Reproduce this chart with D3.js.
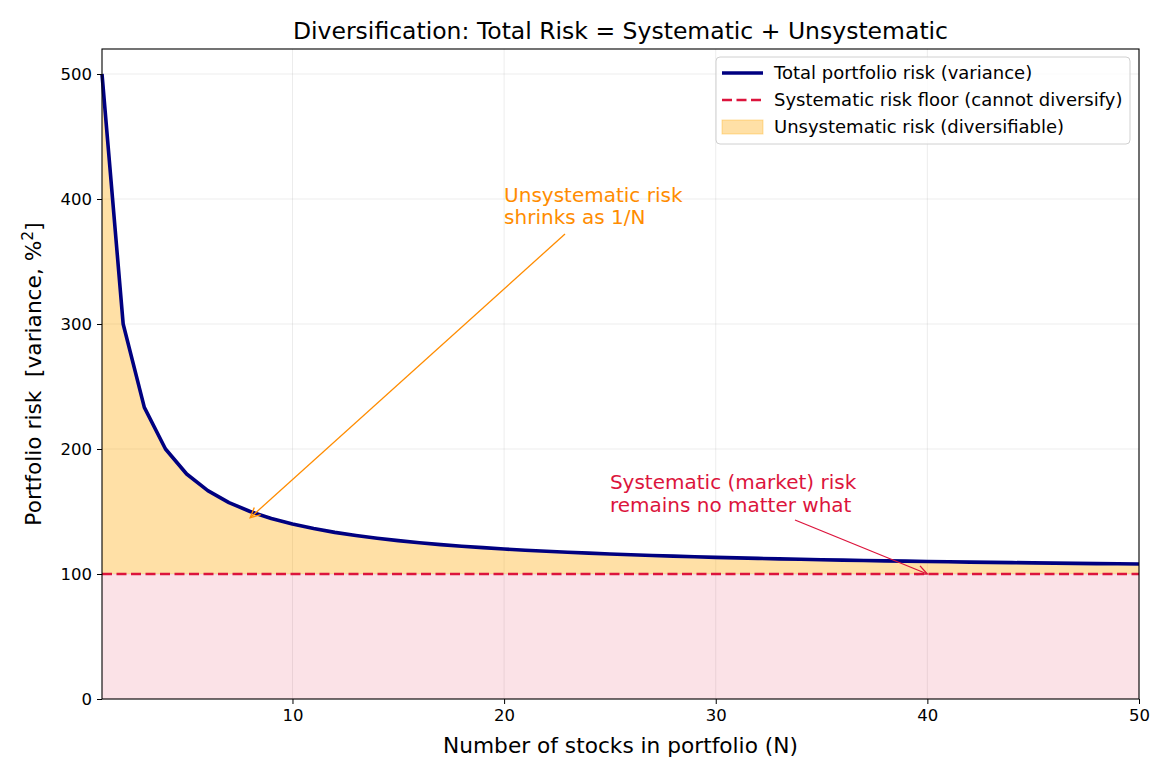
<!DOCTYPE html>
<html><head><meta charset="utf-8">
<script src="https://cdn.jsdelivr.net/npm/d3@7"></script>
<style>
body{margin:0;background:#fff;}
text{font-family:"DejaVu Sans",sans-serif;}
</style></head>
<body><svg id="c" width="1170" height="780"></svg>
<script>
const stocksN = d3.range(1, 51);
const totalRisk = [500, 300, 233.3, 200, 180, 166.7, 157.1, 150, 144.4, 140,
  136.4, 133.3, 130.8, 128.6, 126.7, 125, 123.5, 122.2, 121.1, 120,
  119, 118.2, 117.4, 116.7, 116, 115.4, 114.8, 114.3, 113.8, 113.3,
  112.9, 112.5, 112.1, 111.8, 111.4, 111.1, 110.8, 110.5, 110.3, 110,
  109.8, 109.5, 109.3, 109.1, 108.9, 108.7, 108.5, 108.3, 108.2, 108];
const systematicRisk = 100;
const xTicks = [10, 20, 30, 40, 50];
const yTicks = [0, 100, 200, 300, 400, 500];
const legendLabels = ["Total portfolio risk (variance)", "Systematic risk floor (cannot diversify)", "Unsystematic risk (diversifiable)"];
const annoUnsys = {text: ["Unsystematic risk", "shrinks as 1/N"], x: 20, y: 380, tx: 8, ty: 145};
const annoSys = {text: ["Systematic (market) risk", "remains no matter what"], x: 25, y: 150, tx: 40, ty: 100};

const data = stocksN.map((n, i) => ({n, v: totalRisk[i]}));
const svg = d3.select("#c");
const L = 102, R = 1139, T = 49, B = 699;
const x = d3.scaleLinear().domain([1, 50]).range([L, R]);
const y = d3.scaleLinear().domain([0, 520]).range([B, T]);

// grid
const g = svg.append("g");
g.selectAll(".gx").data(xTicks).join("line").attr("x1", d => x(d)).attr("x2", d => x(d))
  .attr("y1", T).attr("y2", B).attr("stroke", "#b0b0b0").attr("stroke-opacity", 0.3).attr("stroke-width", 0.8);
g.selectAll(".gy").data(yTicks).join("line").attr("y1", d => y(d)).attr("y2", d => y(d))
  .attr("x1", L).attr("x2", R).attr("stroke", "#b0b0b0").attr("stroke-opacity", 0.3).attr("stroke-width", 0.8);

// fills
svg.append("path").datum(data).attr("fill", "crimson").attr("fill-opacity", 0.12)
  .attr("d", d3.area().x(d => x(d.n)).y0(y(0)).y1(y(systematicRisk)));
svg.append("path").datum(data).attr("fill", "orange").attr("fill-opacity", 0.35)
  .attr("d", d3.area().x(d => x(d.n)).y0(y(systematicRisk)).y1(d => y(d.v)));

// floor line
svg.append("line").attr("x1", x(1)).attr("x2", x(50)).attr("y1", y(systematicRisk)).attr("y2", y(systematicRisk))
  .attr("stroke", "crimson").attr("stroke-width", 2.6).attr("stroke-dasharray", "10,4.5");
// total line
svg.append("path").datum(data).attr("fill", "none").attr("stroke", "navy").attr("stroke-width", 3.6)
  .attr("stroke-linejoin", "round")
  .attr("d", d3.line().x(d => x(d.n)).y(d => y(d.v)));

// axes frame
svg.append("rect").attr("x", L).attr("y", T).attr("width", R - L).attr("height", B - T)
  .attr("fill", "none").attr("stroke", "#000").attr("stroke-width", 1.1);

const xa = svg.append("g").attr("transform", `translate(0,${B})`)
  .call(d3.axisBottom(x).tickValues(xTicks).tickSize(5).tickPadding(5).tickFormat(d3.format("d")));
const ya = svg.append("g").attr("transform", `translate(${L},0)`)
  .call(d3.axisLeft(y).tickValues(yTicks).tickSize(5).tickPadding(5).tickFormat(d3.format("d")));
[xa, ya].forEach(a => {
  a.select(".domain").remove();
  a.selectAll("text").attr("font-size", 16.5).attr("fill", "#000").style("font-family", "DejaVu Sans");
  a.selectAll("line").attr("stroke", "#000").attr("stroke-width", 1);
});

// title & labels
svg.append("text").attr("x", (L + R) / 2).attr("y", 39).attr("text-anchor", "middle")
  .attr("font-size", 23.5).text("Diversification: Total Risk = Systematic + Unsystematic");
svg.append("text").attr("x", (L + R) / 2).attr("y", 753).attr("text-anchor", "middle")
  .attr("font-size", 21.7).text("Number of stocks in portfolio (N)");
const yl = svg.append("text").attr("transform", `translate(41,${(T + B) / 2}) rotate(-90)`)
  .attr("text-anchor", "middle").attr("font-size", 21.7).style("white-space", "pre");
yl.append("tspan").text("Portfolio risk  [variance, %");
yl.append("tspan").attr("font-size", 15.5).attr("dy", -8).text("2");
yl.append("tspan").attr("dy", 8).text("]");

// annotations
function annotate(a, color, sx, sy) {
  const t = svg.append("text").attr("fill", color).attr("font-size", 20);
  a.text.forEach((s, i) => t.append("tspan").attr("x", x(a.x)).attr("y", y(a.y) - (a.text.length - 1 - i) * 22.5).text(s));
  const x2 = x(a.tx), y2 = y(a.ty);
  svg.append("line").attr("x1", sx).attr("y1", sy).attr("x2", x2).attr("y2", y2)
    .attr("stroke", color).attr("stroke-width", 1.3);
  const ang = Math.atan2(y2 - sy, x2 - sx);
  const hl = 11, hw = 0.45;
  const p1 = [x2 - hl * Math.cos(ang - hw), y2 - hl * Math.sin(ang - hw)];
  const p2 = [x2 - hl * Math.cos(ang + hw), y2 - hl * Math.sin(ang + hw)];
  svg.append("path").attr("d", `M${p1}L${x2},${y2}L${p2}`).attr("fill", "none")
    .attr("stroke", color).attr("stroke-width", 1.3);
}
annotate(annoUnsys, "darkorange", 565, 234);
annotate(annoSys, "crimson", 795, 520);

// legend
const lg = svg.append("g");
lg.append("rect").attr("x", 716).attr("y", 57).attr("width", 414).attr("height", 87).attr("rx", 4)
  .attr("fill", "#fff").attr("fill-opacity", 0.8).attr("stroke", "#d0d0d0");
const rows = [73, 100, 127];
lg.append("line").attr("x1", 722).attr("x2", 763).attr("y1", rows[0]).attr("y2", rows[0])
  .attr("stroke", "navy").attr("stroke-width", 3.6);
lg.append("line").attr("x1", 722).attr("x2", 763).attr("y1", rows[1]).attr("y2", rows[1])
  .attr("stroke", "crimson").attr("stroke-width", 2.6).attr("stroke-dasharray", "10,4.5");
lg.append("rect").attr("x", 722).attr("y", rows[2] - 7).attr("width", 41).attr("height", 14)
  .attr("fill", "orange").attr("fill-opacity", 0.35).attr("stroke", "orange").attr("stroke-opacity", 0.35);
legendLabels.forEach((s, i) => lg.append("text").attr("x", 774).attr("y", rows[i] + 6)
  .attr("font-size", 18).text(s));
</script></body></html>
